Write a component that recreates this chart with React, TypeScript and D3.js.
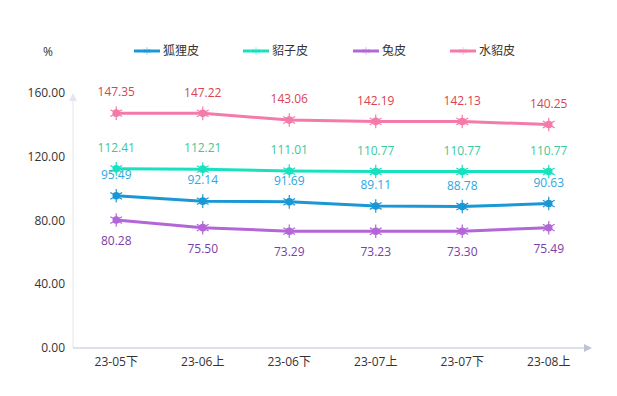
import * as d3 from 'd3';
import { useEffect, useRef } from 'react';

const categories = ['23-05下', '23-06上', '23-06下', '23-07上', '23-07下', '23-08上'];
const seriesNames = ['狐狸皮', '貂子皮', '兔皮', '水貂皮'];
const fox = [95.49, 92.14, 91.69, 89.11, 88.78, 90.63];
const marten = [112.41, 112.21, 111.01, 110.77, 110.77, 110.77];
const rabbit = [80.28, 75.5, 73.29, 73.23, 73.3, 75.49];
const mink = [147.35, 147.22, 143.06, 142.19, 142.13, 140.25];
const yTicks = [0, 40, 80, 120, 160];

const lineColors = ['#1a98d5', '#19e0bf', '#b266d8', '#f47aa9'];
const labelColors = ['#2ea7e0', '#3cc79c', '#7a3ea6', '#d94450'];
const labelAbove = [true, true, false, true];

const FONT = "'Open Sans', 'Noto Sans CJK SC', sans-serif";

export default function App() {
  const svgRef = useRef<SVGSVGElement>(null);

  useEffect(() => {
    const w = 617;
    const h = 396;
    const svg = d3.select(svgRef.current);
    svg.selectAll('*').remove();
    svg.attr('width', w).attr('height', h).style('font-family', FONT);

    const left = 73, right = 592, top = 93, bottom = 348;
    const x = d3.scaleBand().domain(categories).range([left, right]);
    const y = d3.scaleLinear().domain([0, 160]).range([bottom, top]);
    const cx = (c: string) => (x(c) as number) + x.bandwidth() / 2;

    // y axis line + arrow
    svg.append('line')
      .attr('x1', left).attr('x2', left).attr('y1', bottom).attr('y2', top + 4)
      .attr('stroke', '#e3e6ee').attr('stroke-width', 1);
    svg.append('path')
      .attr('d', `M${left - 4},${top + 8}L${left},${top}L${left + 4},${top + 8}Z`)
      .attr('fill', '#e3e6ee');

    // x axis line + arrow
    svg.append('line')
      .attr('x1', left).attr('x2', right - 2).attr('y1', bottom).attr('y2', bottom)
      .attr('stroke', '#bcc3d2').attr('stroke-width', 1);
    svg.append('path')
      .attr('d', `M${right - 8},${bottom - 4}L${right},${bottom}L${right - 8},${bottom + 4}Z`)
      .attr('fill', '#bcc3d2');

    // y tick labels
    svg.append('g').selectAll('text').data(yTicks).enter().append('text')
      .attr('x', 65).attr('y', d => y(d)).attr('dy', '0.35em')
      .attr('text-anchor', 'end').attr('fill', '#333').style('font-size', '12px')
      .text(d => d.toFixed(2));

    svg.append('text').attr('x', 48).attr('y', 52).attr('dy', '0.35em')
      .attr('text-anchor', 'middle').attr('fill', '#333').style('font-size', '12px').text('%');

    // x labels
    svg.append('g').selectAll('text').data(categories).enter().append('text')
      .attr('x', d => cx(d)).attr('y', bottom + 14).attr('dy', '0.35em')
      .attr('text-anchor', 'middle').attr('fill', '#333').style('font-size', '12px')
      .text(d => d);

    const all = [fox, marten, rabbit, mink];
    const line = d3.line<number>().x((_, i) => cx(categories[i])).y(d => y(d));
    const star = d3.symbol().type(d3.symbolAsterisk).size(130);

    all.forEach((vals, si) => {
      const g = svg.append('g');
      g.append('path').datum(vals).attr('d', line)
        .attr('fill', 'none').attr('stroke', lineColors[si]).attr('stroke-width', 3);
      const pts = g.selectAll('g.pt').data(vals).enter().append('g')
        .attr('transform', (d, i) => `translate(${cx(categories[i])},${y(d)})`);
      pts.append('path').attr('d', star).attr('stroke', lineColors[si]).attr('stroke-width', 1.2)
        .attr('fill', 'none');
      pts.append('circle').attr('r', 3.8).attr('fill', lineColors[si]);
      g.selectAll('text').data(vals).enter().append('text')
        .attr('x', (_, i) => cx(categories[i]))
        .attr('y', d => y(d) + (labelAbove[si] ? -21 : 21))
        .attr('dy', '0.35em').attr('text-anchor', 'middle')
        .attr('fill', labelColors[si]).style('font-size', '12px')
        .text(d => d.toFixed(2));
    });

    // legend
    const legendX = [134, 243, 353, 450];
    seriesNames.forEach((name, i) => {
      const g = svg.append('g').attr('transform', `translate(${legendX[i]},51)`);
      g.append('line').attr('x1', 0).attr('x2', 26).attr('y1', 0).attr('y2', 0)
        .attr('stroke', lineColors[i]).attr('stroke-width', 3);
      g.append('path').attr('transform', 'translate(13,0)')
        .attr('d', d3.symbol().type(d3.symbolAsterisk).size(40))
        .attr('stroke', lineColors[i]).attr('stroke-opacity', 0.6).attr('stroke-width', 0.8);
      g.append('text').attr('x', 29).attr('y', 0).attr('dy', '0.35em')
        .attr('fill', '#333').style('font-size', '12px').text(name);
    });
  });

  return (
    <div>
      <svg ref={svgRef} style={{ position: 'absolute', left: 0, top: 0, display: 'block' }}></svg>
    </div>
  );
}
